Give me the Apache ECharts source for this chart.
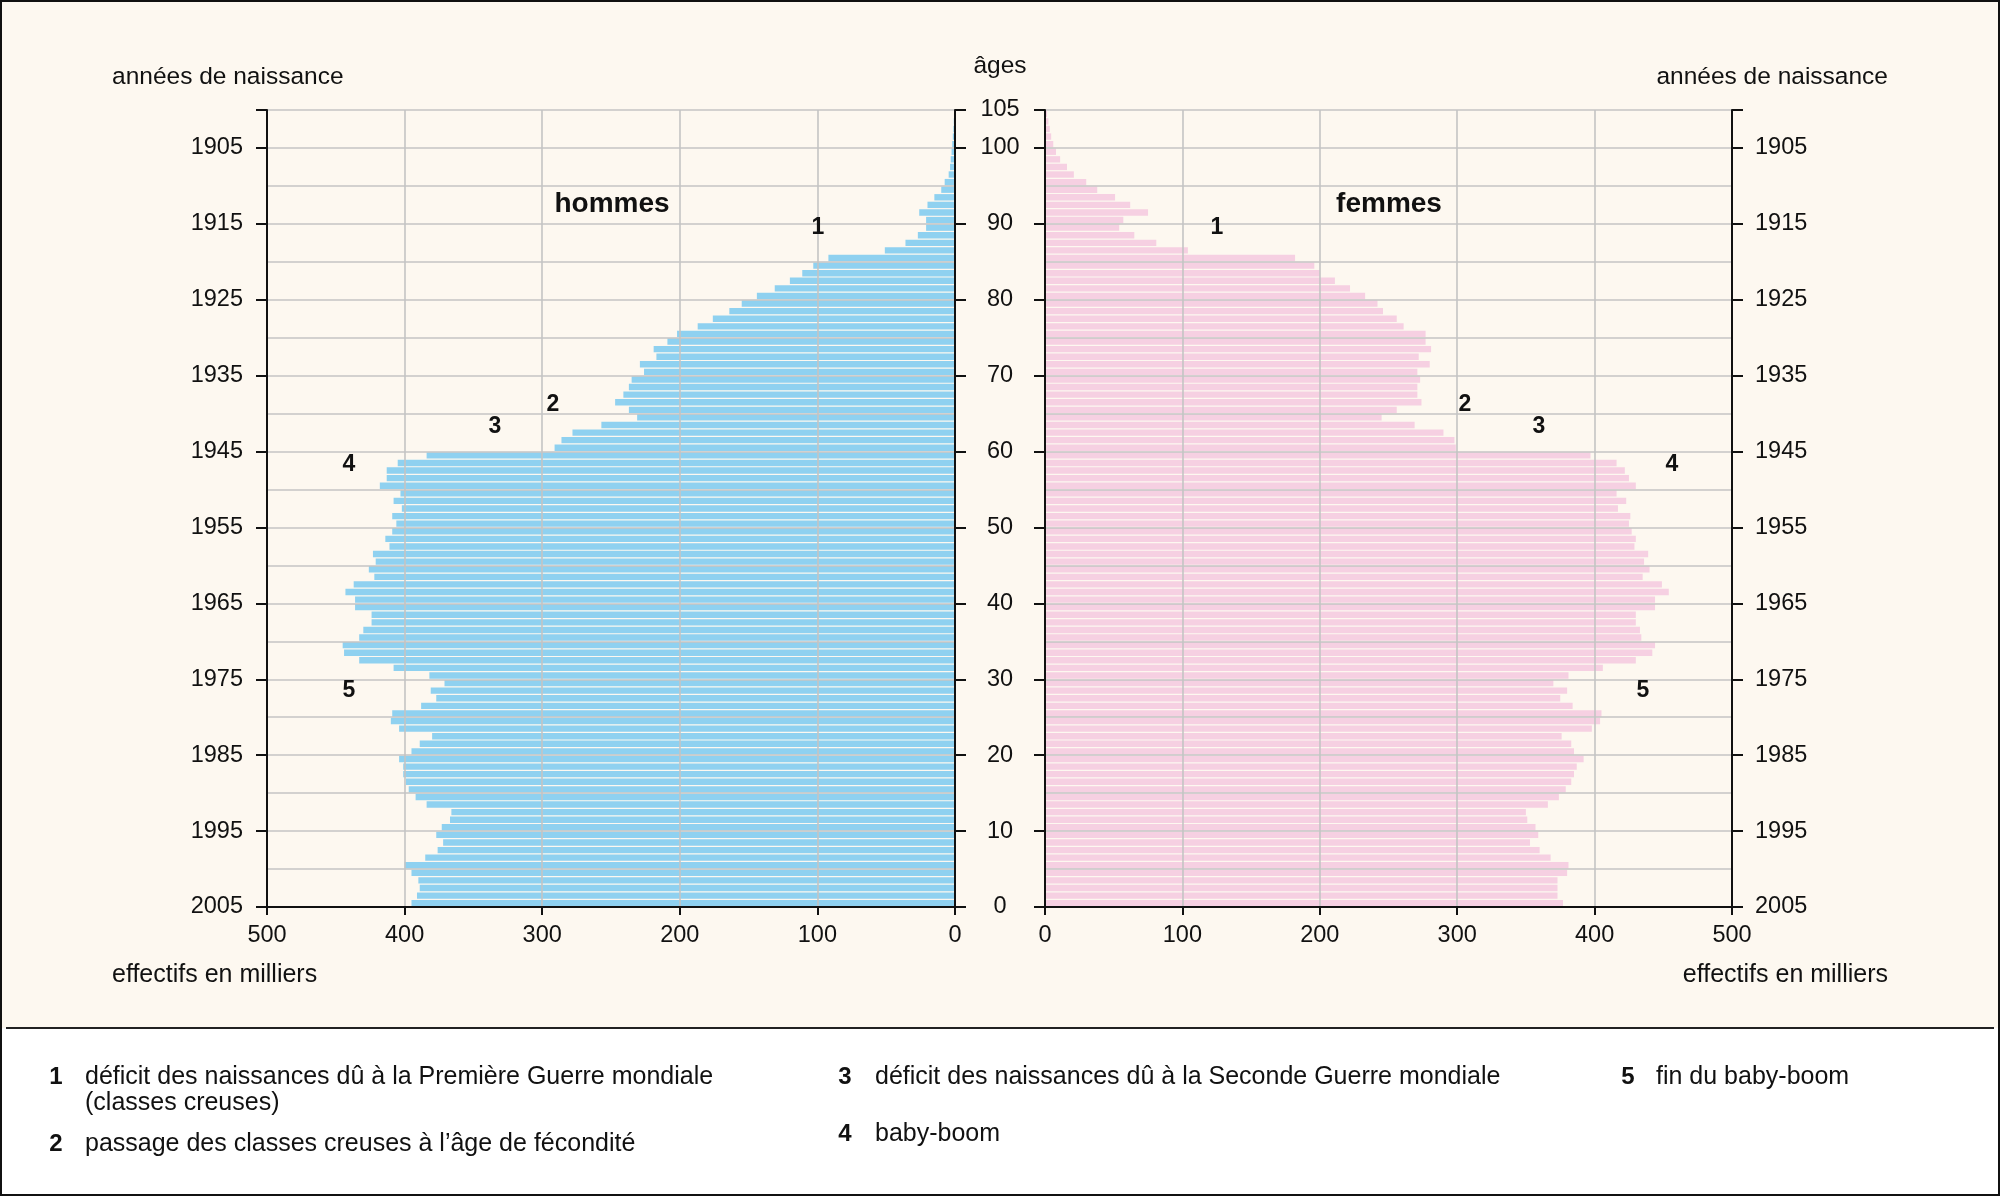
<!DOCTYPE html>
<html><head><meta charset="utf-8">
<script src="https://cdn.jsdelivr.net/npm/echarts@6/dist/echarts.min.js"></script>
<style>html,body{margin:0;padding:0;background:#fff}#c{width:2000px;height:1196px}</style>
</head><body><div id="c"></div>
<script>
// ages 0..104 (categories, bottom to top)
const ages = Array.from({length:105}, (_, i) => i);

// hommes, ages 0..104, in thousands
const hommes = [
 395,391,389,390,395,400,385,376,372,377,
 373,367,366,384,392,397,399,401,401,404,
 395,389,380,404,410,409,388,377,381,371,
 382,408,433,444,445,433,430,424,424,436,
 436,443,437,422,426,421,423,411,414,409,
 406,409,402,408,403,418,413,413,405,384,
 291,286,278,257,231,237,247,241,237,235,
 226,229,217,219,209,202,187,176,164,155,
 144,131,120,111,103,92,51,36,27,21,
 21,26,20,15,10,7.5,4.6,3.6,3.1,2.5,
 2,1.6,1.2,0.9,0.5
];
// femmes, ages 0..104, in thousands
const femmes = [
 377,373,373,373,380,381,368,360,353,359,
 357,351,350,366,374,379,383,385,387,392,
 385,383,376,398,404,405,384,375,380,370,
 381,406,430,442,444,434,433,430,430,444,
 444,454,449,435,440,436,439,429,430,427,
 425,426,417,423,416,430,425,422,416,397,
 299,298,290,269,245,256,274,271,271,273,
 271,280,272,281,277,277,261,256,246,242,
 233,222,211,200,196,182,104,81,65,54,
 57,75,62,51,38,30,21,16,11,8,
 6,4.5,3.5,2.5,1.5
];
// tick labels
const ageTicks = [0,10,20,30,40,50,60,70,80,90,100,105];
const yearTickAges = [0,10,20,30,40,50,60,70,80,90,100];
const yearLabels = ['2005','1995','1985','1975','1965','1955','1945','1935','1925','1915','1905'];

const FF = '"Liberation Sans", Arial, Helvetica, sans-serif';
const BLACK = '#111';
const GRID = '#c4c4c4';
const BLUE = '#8fd1f0';
const PINK = '#f6d0e2';
const CREAM = '#fdf8f0';

const yearFmt = v => { const i = yearTickAges.indexOf(v); return i >= 0 ? yearLabels[i] : ''; };

function xAxis(gi, inverse) {
  return {
    gridIndex: gi, type: 'value', min: 0, max: 500, interval: 100, inverse: inverse,
    position: 'bottom', z: 6,
    axisLine: {show: true, onZero: false, lineStyle: {color: BLACK, width: 2}},
    axisTick: {show: true, length: 8, lineStyle: {color: BLACK, width: 2}},
    axisLabel: {margin: 17, fontSize: 23.5, color: BLACK, fontFamily: FF, showMinLabel: true, showMaxLabel: true},
    splitLine: {show: true, lineStyle: {color: GRID, width: 1.6}}
  };
}
function splitAxis(gi) {
  return {
    gridIndex: gi, type: 'value', min: 0, max: 105, interval: 5, position: 'left', z: 4,
    axisLine: {show: false, onZero: false}, axisTick: {show: false}, axisLabel: {show: false},
    splitLine: {show: true, lineStyle: {color: GRID, width: 1.6}}
  };
}
function lineAxis(gi, pos, labelOpt) {
  return {
    gridIndex: gi, type: 'value', min: 0, max: 105, position: pos, z: 7,
    axisLine: {show: true, onZero: false, lineStyle: {color: BLACK, width: 2}},
    axisTick: {show: true, length: 11, customValues: ageTicks, lineStyle: {color: BLACK, width: 2}},
    axisLabel: labelOpt,
    splitLine: {show: false}
  };
}

const option = {
  backgroundColor: CREAM,
  animation: false,
  grid: [
    {left: 267, right: 1045, top: 110, bottom: 289},
    {left: 1045, right: 268, top: 110, bottom: 289}
  ],
  xAxis: [xAxis(0, true), xAxis(1, false)],
  yAxis: [
    {gridIndex: 0, type: 'category', data: ages, show: false},
    {gridIndex: 1, type: 'category', data: ages, show: false},
    lineAxis(0, 'left', {show: true, customValues: yearTickAges, formatter: yearFmt, margin: 24, fontSize: 23.5, color: BLACK, fontFamily: FF}),
    lineAxis(0, 'right', {show: true, customValues: ageTicks, margin: 45, align: 'center', fontSize: 23.5, color: BLACK, fontFamily: FF}),
    splitAxis(0),
    lineAxis(1, 'left', {show: false}),
    lineAxis(1, 'right', {show: true, customValues: yearTickAges, formatter: yearFmt, margin: 23, fontSize: 23.5, color: BLACK, fontFamily: FF}),
    splitAxis(1)
  ],
  series: [
    {type: 'bar', name: 'hommes', xAxisIndex: 0, yAxisIndex: 0, data: hommes, barCategoryGap: '16%', itemStyle: {color: BLUE}, z: 2, silent: true},
    {type: 'bar', name: 'femmes', xAxisIndex: 1, yAxisIndex: 1, data: femmes, barCategoryGap: '16%', itemStyle: {color: PINK}, z: 2, silent: true}
  ],
  graphic: [
    {type: 'rect', shape: {x: 0, y: 1028, width: 2000, height: 168}, style: {fill: '#ffffff'}, z: 1},
    {type: 'line', shape: {x1: 6, y1: 1028, x2: 1994, y2: 1028}, style: {stroke: '#222', lineWidth: 2}, z: 2},
    {type: 'rect', shape: {x: 1, y: 1, width: 1998, height: 1194}, style: {fill: null, stroke: '#111', lineWidth: 2}, z: 50},
    ...[
      {t: 'années de naissance', x: 112, y: 77, a: 'left', s: 24.5},
      {t: 'années de naissance', x: 1888, y: 77, a: 'right', s: 24.5},
      {t: 'âges', x: 1000, y: 66, a: 'center', s: 24.5},
      {t: 'effectifs en milliers', x: 112, y: 975, a: 'left', s: 25},
      {t: 'effectifs en milliers', x: 1888, y: 975, a: 'right', s: 25}
    ].map(o => ({type: 'text', x: o.x, y: o.y, z: 20, style: {text: o.t, fill: BLACK, font: o.s + 'px ' + FF, align: o.a, verticalAlign: 'middle'}})),
    ...[
      {t: 'hommes', x: 612, y: 204},
      {t: 'femmes', x: 1389, y: 204}
    ].map(o => ({type: 'text', x: o.x, y: o.y, z: 20, style: {text: o.t, fill: BLACK, font: 'bold 28px ' + FF, align: 'center', verticalAlign: 'middle'}})),
    ...[
      ['1', 818, 228], ['2', 553, 405], ['3', 495, 427], ['4', 349, 465], ['5', 349, 691],
      ['1', 1217, 228], ['2', 1465, 405], ['3', 1539, 427], ['4', 1672, 465], ['5', 1643, 691]
    ].map(o => ({type: 'text', x: o[1], y: o[2], z: 20, style: {text: o[0], fill: BLACK, font: 'bold 23px ' + FF, align: 'center', verticalAlign: 'middle'}})),
    ...[
      ['1', 56, 1077], ['2', 56, 1144], ['3', 845, 1077], ['4', 845, 1134], ['5', 1628, 1077]
    ].map(o => ({type: 'text', x: o[1], y: o[2], z: 20, style: {text: o[0], fill: BLACK, font: 'bold 24px ' + FF, align: 'center', verticalAlign: 'middle'}})),
    ...[
      ['déficit des naissances dû à la Première Guerre mondiale', 85, 1077],
      ['(classes creuses)', 85, 1103],
      ['passage des classes creuses à l’âge de fécondité', 85, 1144],
      ['déficit des naissances dû à la Seconde Guerre mondiale', 875, 1077],
      ['baby-boom', 875, 1134],
      ['fin du baby-boom', 1656, 1077]
    ].map(o => ({type: 'text', x: o[1], y: o[2], z: 20, style: {text: o[0], fill: BLACK, font: '25px ' + FF, align: 'left', verticalAlign: 'middle'}}))
  ]
};

const chart = echarts.init(document.getElementById('c'), null, {renderer: 'canvas', width: 2000, height: 1196});
chart.setOption(option);
</script>
</body></html>
